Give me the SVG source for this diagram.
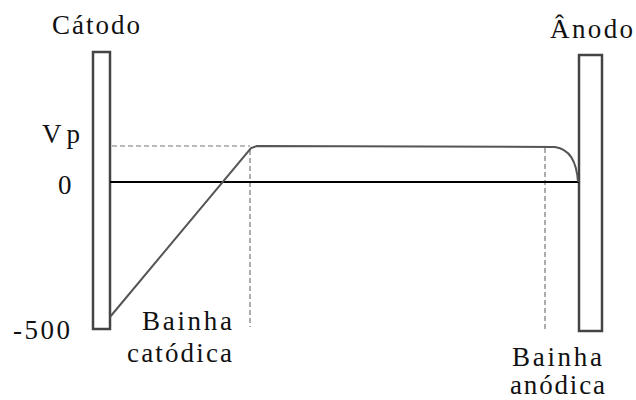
<svg xmlns="http://www.w3.org/2000/svg" width="636" height="400" viewBox="0 0 636 400">
<style>
.t{font-family:'Liberation Serif','DejaVu Serif',serif;font-size:27px;fill:#111}
.el{fill:#fff;stroke:#444;stroke-width:2.5}
.dash{fill:none;stroke:#777;stroke-width:1.2;stroke-dasharray:5,3}
.curve{fill:none;stroke:#555;stroke-width:2}
</style>
<rect width="636" height="400" fill="#fff"/>
<g id="catodo">
<rect class="el" x="93" y="52" width="17" height="277"/>
<text class="t" x="52" y="34" textLength="88" lengthAdjust="spacing">Cátodo</text>
</g>
<g id="anodo">
<rect class="el" x="579" y="55" width="23" height="276"/>
<text class="t" x="550" y="38" textLength="83" lengthAdjust="spacing">Ânodo</text>
</g>
<g id="labels">
<text class="t" x="42" y="143" textLength="38" lengthAdjust="spacing">Vp</text>
<text class="t" x="58" y="194">0</text>
<text class="t" x="13" y="339" textLength="57" lengthAdjust="spacing">-500</text>
<text class="t" x="142" y="330" textLength="90" lengthAdjust="spacing">Bainha</text>
<text class="t" x="127" y="362" textLength="105" lengthAdjust="spacing">catódica</text>
<text class="t" x="512" y="366" textLength="90" lengthAdjust="spacing">Bainha</text>
<text class="t" x="510" y="394" textLength="95" lengthAdjust="spacing">anódica</text>
</g>
<g id="connectors">
<line class="dash" x1="112" y1="146" x2="250" y2="146"/>
<line class="dash" x1="250" y1="150" x2="250" y2="327"/>
<line class="dash" x1="545" y1="148" x2="545" y2="330"/>
<line x1="110" y1="182" x2="579" y2="182" stroke="#000" stroke-width="2"/>
<path class="curve" d="M110,317 L251,148 L257,146 L555,147 Q576,150 578,182"/>
</g>
</svg>
